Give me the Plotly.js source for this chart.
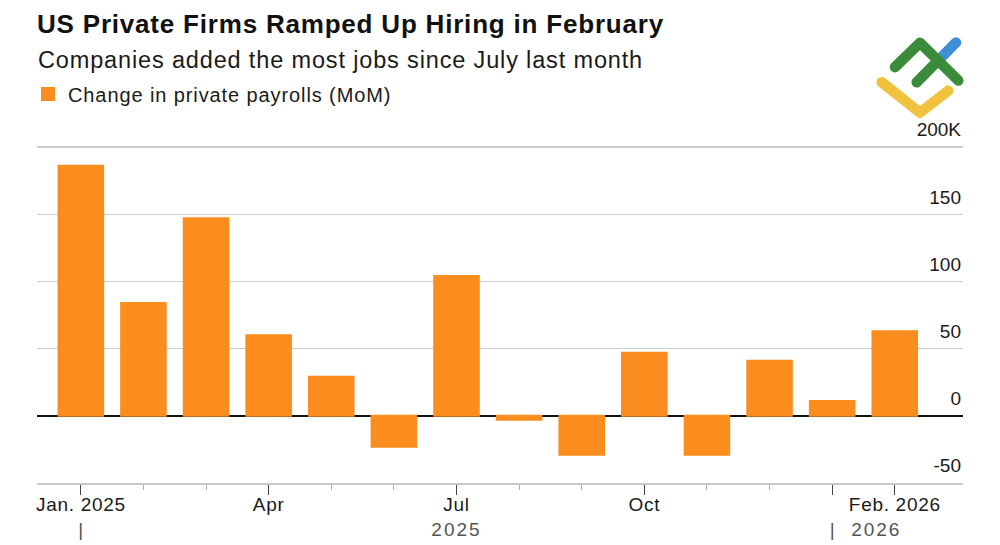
<!DOCTYPE html>
<html><head><meta charset="utf-8">
<script src="https://cdn.plot.ly/plotly-3.0.1.min.js"></script>
<style>html,body{margin:0;padding:0;background:#fff}#chart{width:1000px;height:545px}</style>
</head><body><div id="chart"></div>
<script>
// ---- data ----
const months = ['Jan 2025','Feb 2025','Mar 2025','Apr 2025','May 2025','Jun 2025','Jul 2025',
                'Aug 2025','Sep 2025','Oct 2025','Nov 2025','Dec 2025','Jan 2026','Feb 2026'];
const payrollChange = [186, 84, 147, 60, 29, -23, 104, -3, -29, 47, -29, 41, 11, 63];
const seriesName = 'Change in private payrolls (MoM)';
const yTickValues = [-50, 0, 50, 100, 150, 200];
const yTickLabels = ['-50', '0', '50', '100', '150', '200K'];
const xTickMonths = ['Jan 2025','Apr 2025','Jul 2025','Oct 2025','Jan 2026','Feb 2026'];
const xTickTop = ['Jan. 2025', 'Apr', 'Jul', 'Oct', '&nbsp;', 'Feb. 2026'];
const xTickBottom = ['|', '', '2025', '', '|', '2026'];
const titleText = 'US Private Firms Ramped Up Hiring in February';
const subtitleText = 'Companies added the most jobs since July last month';

// ---- styling helpers ----
const sp = (txt, style) => '<span style="' + style + '">' + txt + '</span>';
const yearStyle = 'color:#555;letter-spacing:2px';
const barStyle = 'color:#555';
const xTickLabels = xTickTop.map((top, i) => {
  const t = sp(top, 'letter-spacing:0.7px');
  const b = xTickBottom[i];
  if (!b) return t;
  if (b === '|') return t + '<br>' + sp(b, barStyle);
  const padding = (i === xTickTop.length - 1) ? '&nbsp;'.repeat(7) : '';
  return t + '<br>' + sp(b, yearStyle) + padding;
});

// plot area: x 37..963 px, y value -50 at 483 px, 200 at 147 px; top of plot extended to 118 px
const W = 1000, H = 545, L = 37, R = 37, T = 118, B = 62;
const pw = W - L - R, ph = H - T - B;
const pxPerUnit = (483 - 147) / 250;
const yMax = 200 + (147 - T) / pxPerUnit;
const px2x = p => (p - L) / pw;
const px2y = p => (H - B - p) / ph;

const logoSvg = "<svg xmlns='http://www.w3.org/2000/svg' viewBox='0 0 90 85' width='180' height='170'>" +
  "<g fill='none' stroke-linecap='round' stroke-linejoin='round' stroke-width='10.5'>" +
  "<line x1='63' y1='25.4' x2='81' y2='7.4' stroke='#3f8fd6'/>" +
  "<polyline points='6.7,46.7 45,76.7 73.3,55' stroke='#f1c23d'/>" +
  "<polyline points='20,31.7 45,7.7 83.3,45' stroke='#3a8c3b'/>" +
  "<line x1='41.7' y1='46.7' x2='62.9' y2='25.5' stroke='#3a8c3b'/>" +
  "</g></svg>";

const xIdx = months.map((m, i) => i);
const orange = '#fb8d1f';

const trace = {
  type: 'bar',
  x: xIdx,
  y: payrollChange,
  name: sp(seriesName, 'letter-spacing:0.9px'),
  marker: {color: orange, line: {width: 2, color: orange}},
  showlegend: true,
  hoverinfo: 'skip'
};

const layout = {
  width: W, height: H,
  margin: {l: L, r: R, t: T, b: B, pad: 0},
  paper_bgcolor: '#fff', plot_bgcolor: '#fff',
  font: {family: '"Liberation Sans", Arial, sans-serif', color: '#1a1a1a', size: 18},
  bargap: 0.288,
  title: {
    text: '<b>' + sp(titleText, 'letter-spacing:0.8px') + '</b>',
    x: 37 / W, xref: 'container', xanchor: 'left',
    y: 1 - 24 / H, yref: 'container', yanchor: 'middle',
    font: {size: 26, family: '"Liberation Sans", Arial, sans-serif', color: '#111'}
  },
  showlegend: true,
  legend: {
    x: 28 / W, xref: 'container', xanchor: 'left',
    y: 1 - 94 / H, yref: 'container', yanchor: 'middle',
    orientation: 'h',
    font: {size: 20, color: '#1a1a1a'},
    bgcolor: 'rgba(0,0,0,0)'
  },
  annotations: [{
    text: sp(subtitleText, 'letter-spacing:0.85px'),
    xref: 'paper', yref: 'paper',
    x: px2x(36), y: px2y(60), xanchor: 'left', yanchor: 'middle',
    showarrow: false,
    font: {size: 23.5, color: '#1a1a1a'}
  }],
  xaxis: {
    type: 'linear',
    range: [-0.70, 14.09],
    tickvals: xTickMonths.map(m => months.indexOf(m)),
    ticktext: xTickLabels,
    ticks: 'outside', ticklen: 10, tickwidth: 1.3, tickcolor: '#444',
    ticklabelstandoff: -6,
    minor: {dtick: 1, tick0: 0, ticks: 'outside', ticklen: 5, tickwidth: 1, tickcolor: '#aaa', showgrid: false},
    showgrid: false, zeroline: false,
    showline: true, linecolor: '#c8c8c8', linewidth: 1.5,
    tickfont: {size: 19, color: '#1a1a1a'},
    fixedrange: true
  },
  yaxis: {
    range: [-50, yMax],
    side: 'right',
    tickvals: yTickValues,
    ticktext: yTickLabels,
    ticklabelposition: 'inside top',
    ticklabelshift: -4,
    ticklabelstandoff: -1,
    ticks: '',
    showgrid: true, gridcolor: '#cccccc', gridwidth: 1.3,
    zeroline: true, zerolinecolor: '#111', zerolinewidth: 1.6,
    showline: false,
    tickfont: {size: 19, color: '#1a1a1a'},
    fixedrange: true
  },
  images: [{
    source: 'data:image/svg+xml;charset=utf-8,' + encodeURIComponent(logoSvg),
    xref: 'paper', yref: 'paper',
    x: px2x(875), y: px2y(35), sizex: 90 / pw, sizey: 86 / ph,
    xanchor: 'left', yanchor: 'top', sizing: 'stretch', layer: 'above'
  }]
};

Plotly.newPlot('chart', [trace], layout, {displayModeBar: false, staticPlot: true});
</script>
</body></html>
